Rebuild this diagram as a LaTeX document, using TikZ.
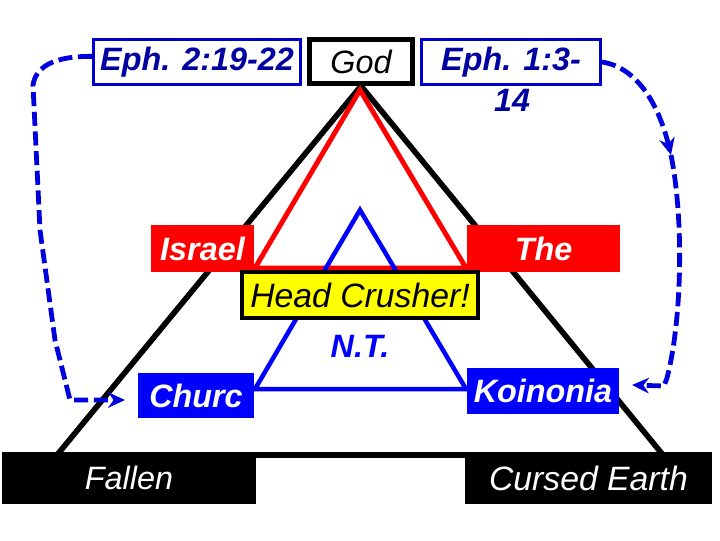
\documentclass[tikz,border=0pt]{standalone}
\usepackage{fontspec}
\setmainfont{Liberation Sans}
\usetikzlibrary{arrows.meta}
\definecolor{ephtxt}{RGB}{0,0,160}
\definecolor{ephline}{RGB}{0,0,204}
\definecolor{dashblue}{RGB}{0,0,220}
\definecolor{pureblue}{RGB}{0,0,255}
\definecolor{purered}{RGB}{255,0,0}
\definecolor{crusher}{RGB}{255,255,0}

\begin{document}
\begin{tikzpicture}[
  x=0.025cm,y=-0.025cm,
  lbl/.style={rectangle,inner sep=0pt,align=center,
              font=\fontsize{23}{26}\selectfont\itshape},
  blbl/.style={lbl,font=\fontsize{23}{26}\selectfont\bfseries\itshape},
  ephbox/.style={blbl,draw=ephline,line width=2pt,fill=white,text=ephtxt},
  godbox/.style={lbl,draw=black,line width=3.5pt,fill=white},
  redbox/.style={blbl,fill=purered,text=white},
  bluebox/.style={blbl,fill=pureblue,text=white},
  earthbox/.style={lbl,fill=black,text=white},
  headbox/.style={lbl,draw=black,line width=3pt,fill=crusher,
                  font=\fontsize{24}{26}\selectfont\itshape},
  tri/.style={line width=4pt,line join=miter},
  darr/.style={draw=dashblue,line width=3.4pt,dash pattern=on 10pt off 4pt,
               -{Stealth[length=12pt,width=11pt]}},
  >=Stealth
]
\useasboundingbox (0,0) rectangle (720,540);

% top row
\node[ephbox,minimum width=5.18cm,minimum height=1.13cm] (eph2) at (197,62) {Eph. 2:19-22};
\node[godbox,minimum width=2.58cm,minimum height=1.1cm]  (god)  at (361,61.5) {God};
\node[ephbox,minimum width=4.48cm,minimum height=1.13cm] (eph1) at (511,62) {Eph. 1:3-};
\node[blbl,text=ephtxt] (eph1b) at (512,100) {14};

% triangles
\coordinate (bl) at (57,455);
\coordinate (br) at (663,455);
\draw[tri,black] (god.south) -- (bl) -- (br) -- cycle;
\coordinate (rtop) at (360,90);
\coordinate (rl) at (255,268);
\coordinate (rr) at (466,268);
\draw[tri,purered,line width=3.5pt] (rtop) -- (rl) -- (rr) -- cycle;
\coordinate (btop) at (360,210);
\coordinate (bbl) at (255,389);
\coordinate (bbr) at (466,389);
\draw[tri,pureblue,line width=3.2pt] (btop) -- (bbl) -- (bbr) -- cycle;

% labels on the triangles
\node[redbox,minimum width=2.58cm,minimum height=1.18cm] (israel) at (202.5,248.5) {Israel};
\node[redbox,minimum width=3.83cm,minimum height=1.18cm] (seed)   at (543.5,248.5) {The};
\node[headbox,minimum width=5.9cm,minimum height=1.15cm] (head)   at (360,295) {Head Crusher!};
\node[blbl,text=pureblue] (nt) at (360,346) {N.T.};
\node[bluebox,minimum width=2.9cm,minimum height=1.13cm] (church) at (196,395.5) {Churc};
\node[bluebox,minimum width=3.8cm,minimum height=1.15cm] (koin)   at (543,391) {Koinonia};
\node[earthbox,minimum width=6.35cm,minimum height=1.3cm] (fallen) at (129,478) {Fallen};
\node[earthbox,minimum width=6.18cm,minimum height=1.3cm] (cursed) at (588.5,478) {\fontsize{24}{26}\selectfont Cursed Earth};

% dashed links
\coordinate (cin)  at (125,400);
\coordinate (rmid) at (671,155);
\coordinate (kin)  at (632,385);
\draw[darr] ([yshift=4pt]eph2.west) .. controls (55,56) and (36,66) .. (33,85)
  -- (40,230) -- (55,340) -- (70,400) -- (cin);
\draw[darr] (eph1.east) .. controls (640,68) and (660,110) .. (rmid);
\draw[darr] (rmid) .. controls (684,220) and (682,320) .. (667,378)
  -- (664,386) -- (kin);
\end{tikzpicture}
\end{document}
